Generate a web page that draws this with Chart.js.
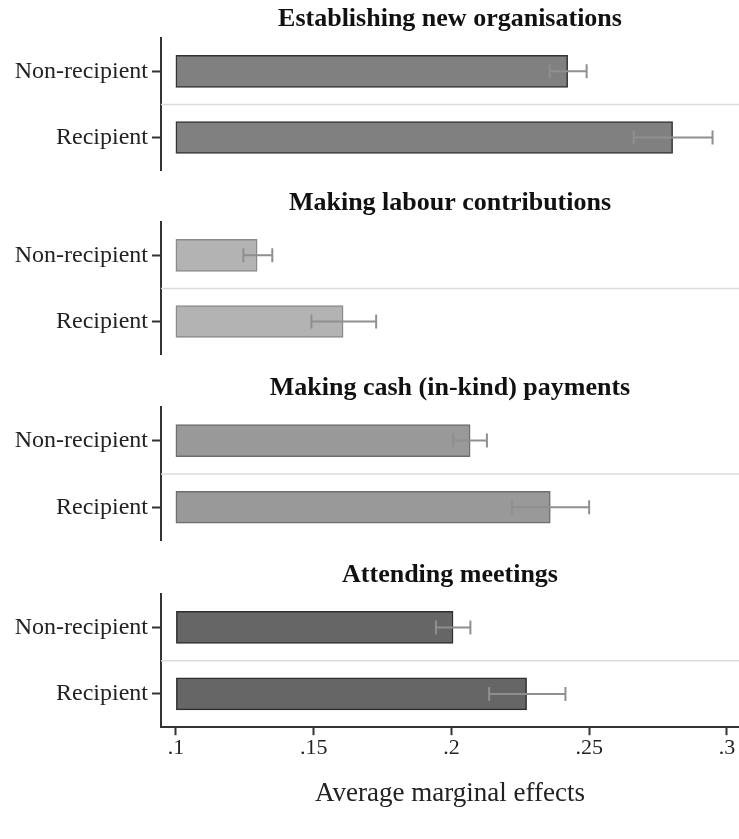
<!DOCTYPE html>
<html>
<head>
<meta charset="utf-8">
<script src="https://cdn.jsdelivr.net/npm/chart.js@4.4.1/dist/chart.umd.min.js"></script>
<style>
  body { margin: 0; background: #fff; }
  .panel { position: absolute; left: 0; width: 739px; }
</style>
</head>
<body>
<div class="panel" id="p0" style="top:0px;height:189px"><canvas id="c0"></canvas></div>
<div class="panel" id="p1" style="top:184px;height:189px"><canvas id="c1"></canvas></div>
<div class="panel" id="p2" style="top:369px;height:190px"><canvas id="c2"></canvas></div>
<div class="panel" id="p3" style="top:556px;height:283px"><canvas id="c3"></canvas></div>
<script>
// data
var categories = ["Non-recipient", "Recipient"];
var panelTitles = ["Establishing new organisations", "Making labour contributions",
                   "Making cash (in-kind) payments", "Attending meetings"];

var organisationsAme = [0.2422, 0.2803];
var organisationsLo  = [0.2357, 0.2662];
var organisationsHi  = [0.2491, 0.2948];

var labourAme = [0.1295, 0.1607];
var labourLo  = [0.1245, 0.1492];
var labourHi  = [0.1350, 0.1727];

var cashAme = [0.2068, 0.2359];
var cashLo  = [0.2006, 0.2220];
var cashHi  = [0.2129, 0.2500];

var meetingsAme = [0.2006, 0.2273];
var meetingsLo  = [0.1944, 0.2137];
var meetingsHi  = [0.2069, 0.2414];

var xTicks = [0.1, 0.15, 0.2, 0.25, 0.3];
var xMin = 0.0946, xMax = 0.3044, barBase = 0.1;

var panels = [
    { ame: organisationsAme, lo: organisationsLo, hi: organisationsHi, fill: "#808080", border: "#333333" },
    { ame: labourAme, lo: labourLo, hi: labourHi, fill: "#b3b3b3", border: "#8a8a8a" },
    { ame: cashAme, lo: cashLo, hi: cashHi, fill: "#999999", border: "#6e6e6e" },
    { ame: meetingsAme, lo: meetingsLo, hi: meetingsHi, fill: "#666666", border: "#2e2e2e" }
];

var serif = "'Liberation Serif', 'DejaVu Serif', serif";

// light line between the two groups
var separator = {
    id: "separator",
    beforeDatasetsDraw: function (chart) {
        var y = chart.scales.y, a = chart.chartArea, c = chart.ctx;
        var mid = (y.getPixelForValue(0) + y.getPixelForValue(1)) / 2;
        c.save();
        c.strokeStyle = "#dcdcdc";
        c.lineWidth = 1.5;
        c.beginPath();
        c.moveTo(a.left, mid);
        c.lineTo(a.right, mid);
        c.stroke();
        c.restore();
    }
};

// confidence intervals
var errorBars = {
    id: "errorBars",
    afterDatasetsDraw: function (chart, args, opts) {
        var x = chart.scales.x, c = chart.ctx;
        var meta = chart.getDatasetMeta(0);
        c.save();
        c.strokeStyle = "#8f8f8f";
        c.lineWidth = 2;
        meta.data.forEach(function (bar, i) {
            var x1 = x.getPixelForValue(opts.lo[i]);
            var x2 = x.getPixelForValue(opts.hi[i]);
            c.beginPath();
            c.moveTo(x1, bar.y); c.lineTo(x2, bar.y);
            c.moveTo(x1, bar.y - 7); c.lineTo(x1, bar.y + 7);
            c.moveTo(x2, bar.y - 7); c.lineTo(x2, bar.y + 7);
            c.stroke();
        });
        c.restore();
    }
};

panels.forEach(function (p, k) {
    var last = k === panels.length - 1;
    new Chart(document.getElementById("c" + k), {
        type: "bar",
        data: {
            labels: categories,
            datasets: [{
                data: p.ame,
                base: barBase,
                backgroundColor: p.fill,
                borderColor: p.border,
                borderWidth: 1.5,
                borderSkipped: false,
                barThickness: 32
            }]
        },
        options: {
            indexAxis: "y",
            responsive: true,
            maintainAspectRatio: false,
            animation: false,
            layout: { padding: { left: 0, right: 0, top: 0, bottom: last ? 25 : 0 } },
            plugins: {
                legend: { display: false },
                tooltip: { enabled: false },
                title: {
                    display: true,
                    fullSize: false,
                    text: panelTitles[k],
                    align: "center",
                    color: "#111",
                    font: { family: serif, size: 26, weight: "bold" },
                    padding: { top: 4, bottom: 3 }
                },
                errorBars: { lo: p.lo, hi: p.hi }
            },
            scales: {
                x: {
                    type: "linear",
                    display: last,
                    min: xMin,
                    max: xMax,
                    afterBuildTicks: function (s) {
                        s.ticks = xTicks.map(function (v) { return { value: v }; });
                    },
                    border: { display: true, color: "#333", width: 2 },
                    grid: { drawOnChartArea: false, tickLength: 8, tickColor: "#333", tickWidth: 2 },
                    ticks: {
                        padding: 0,
                        color: "#222",
                        font: { family: serif, size: 22 },
                        maxRotation: 0,
                        callback: function (v) { return String(v).replace(/^0\./, "."); }
                    },
                    title: {
                        display: true,
                        text: "Average marginal effects",
                        color: "#222",
                        font: { family: serif, size: 27 },
                        padding: { top: 16, bottom: 4 }
                    }
                },
                y: {
                    offset: true,
                    afterFit: function (s) { s.width = 161; },
                    border: { display: true, color: "#333", width: 2 },
                    grid: { offset: false, drawOnChartArea: false, tickLength: 9, tickColor: "#333", tickWidth: 2 },
                    ticks: {
                        padding: 4,
                        color: "#222",
                        font: { family: serif, size: 24 }
                    }
                }
            }
        },
        plugins: [separator, errorBars]
    });
});
</script>
</body>
</html>
